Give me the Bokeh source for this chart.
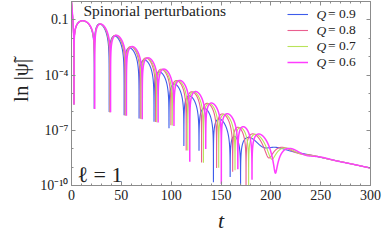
import numpy as np
from bokeh.plotting import figure
from bokeh.models import (Range1d, FixedTicker, LinearAxis, LogAxis, Label, Legend,
                          LegendItem, CustomJSTickFormatter)
from bokeh.embed import file_html
from bokeh.resources import INLINE

# ---------------- values ----------------
q_values = ["0.9", "0.8", "0.7", "0.6"]
colors = ["#3d5ceb", "#ea5f8f", "#b9e35a", "#ff3dff"]
widths = [1.1, 1.1, 1.1, 1.5]

# ringing part: first common dip (t), spacing between dips (t), decay (decades per unit t),
# height of the first arch after the common dip
first_zero = [22.8, 23.0, 23.1, 23.3]
dip_spacing = [15.0, 15.35, 15.6, 15.9]
decay = [0.0435, 0.0400, 0.0395, 0.0385]
first_arch_peak = [0.054, 0.054, 0.054, 0.054]
# late tail: level at t = 300 and slope (decades per unit t)
tail_300 = [8.9e-10, 8.9e-10, 8.9e-10, 8.9e-10]
tail_slope = [0.0116, 0.0116, 0.0116, 0.0116]
# initial burst: value at t = 0, its first dip, and the peak of the first arch
start_value = 1.0
burst_zero = 2.5
early_peak = 0.09

x_ticks = [0, 50, 100, 150, 200, 250, 300]
x_minor = list(range(0, 301, 10))
y_ticks = [1e-1, 1e-4, 1e-7, 1e-10]
y_tick_labels = ["0.1", "10⁻⁴", "10⁻⁷", "10⁻¹⁰"]
y_minor = [10.0 ** k for k in range(-10, 1)]

# ---------------------------------------------------------------
t = np.arange(0.0, 300.0001, 0.025)


def signal(i):
    z = first_zero[i]
    hp = dip_spacing[i]
    d = decay[i]
    amp = first_arch_peak[i] * 10 ** (d * hp / 2)
    s = np.zeros_like(t)
    m0 = t < burst_zero
    s[m0] = start_value * (1 - t[m0] / burst_zero) * np.exp(-t[m0] / 0.9)
    m1 = (t >= burst_zero) & (t < z)
    u = (t[m1] - burst_zero) / (z - burst_zero)
    s[m1] = -early_peak * np.sin(np.pi * u ** 0.8)
    m2 = t >= z
    s[m2] = amp * 10 ** (-d * (t[m2] - z)) * np.sin(np.pi * (t[m2] - z) / hp)
    s = s + tail_300[i] * 10 ** (-tail_slope[i] * (t - 300))
    return np.clip(np.abs(s), 1e-12, None)


font = "Liberation Serif"
gray = "#8c8c8c"

p = figure(frame_width=299, frame_height=184, x_range=Range1d(0, 300),
           y_range=Range1d(1e-10, 1), y_axis_type="log",
           output_backend="svg", toolbar_location=None,
           min_border_left=71, min_border_right=13, min_border_top=1, min_border_bottom=55)
p.grid.visible = False
p.outline_line_color = None
p.background_fill_color = "white"

renderers = []
for i in range(4):
    r = p.line(t, signal(i), line_color=colors[i], line_width=widths[i])
    renderers.append(r)

# axes
xa = p.xaxis[0]
ya = p.yaxis[0]
xa.ticker = FixedTicker(ticks=x_ticks, minor_ticks=x_minor)
ya.ticker = FixedTicker(ticks=y_ticks, minor_ticks=y_minor)
ya.formatter = CustomJSTickFormatter(args=dict(yt=y_ticks, yl=y_tick_labels), code="""
for (let i = 0; i < yt.length; i++) {
  if (Math.abs(Math.log10(tick) - Math.log10(yt[i])) < 1e-6) return yl[i];
}
return "";
""")
top = LinearAxis(ticker=FixedTicker(ticks=x_ticks, minor_ticks=x_minor),
                 formatter=CustomJSTickFormatter(code="return ''"))
right = LogAxis(ticker=FixedTicker(ticks=y_ticks, minor_ticks=y_minor),
                formatter=CustomJSTickFormatter(code="return ''"))
for ax in (xa, ya, top, right):
    ax.axis_line_color = gray
    ax.major_tick_line_color = gray
    ax.minor_tick_line_color = gray
    ax.major_tick_in = 4
    ax.major_tick_out = 0
    ax.minor_tick_in = 2
    ax.minor_tick_out = 0
    ax.major_label_text_font = font
    ax.major_label_text_font_size = "14px"
    ax.major_label_text_color = "#222222"
for ax in (top, right):
    ax.major_label_text_font_size = "0px"
    ax.major_label_standoff = 0
xa.major_label_standoff = 4
ya.major_label_standoff = 3
p.add_layout(top, "above")
p.add_layout(right, "right")

xa.axis_label = "t"
xa.axis_label_text_font = font
xa.axis_label_text_font_style = "italic"
xa.axis_label_text_font_size = "22px"
xa.axis_label_text_color = "#222222"
xa.axis_label_standoff = 5
ya.axis_label = "\u00a0" * 5 + "ln |ψ̃|"
ya.axis_label_text_font = font
ya.axis_label_text_font_style = "normal"
ya.axis_label_text_font_size = "21px"
ya.axis_label_text_color = "#222222"
ya.axis_label_standoff = 4

# legend
items = [LegendItem(label="= " + q, renderers=[r]) for q, r in zip(q_values, renderers)]
legend = Legend(items=items, location=(216, 115), padding=0, margin=0, spacing=0,
                glyph_width=21, glyph_height=16, label_height=16, label_standoff=20,
                border_line_color=None, background_fill_alpha=0,
                label_text_font=font, label_text_font_size="13.5px", label_text_color="#222222")
p.add_layout(legend)
for i in range(4):
    p.add_layout(Label(x=245, y=185 - (14 + 16 * i), x_units="screen", y_units="screen",
                       text="Q", text_font=font, text_font_style="italic",
                       text_font_size="13.5px", text_baseline="middle", text_color="#222222"))

p.add_layout(Label(x=12, y=175, x_units="screen", y_units="screen",
                   text="Spinorial perturbations", text_font=font, text_font_size="15.5px",
                   text_baseline="alphabetic", text_color="#222222"))
p.add_layout(Label(x=6, y=11, x_units="screen", y_units="screen",
                   text="ℓ = 1", text_font=font, text_font_size="22px",
                   text_baseline="alphabetic", text_color="#222222"))

open("out.html", "w").write(file_html(p, INLINE))
